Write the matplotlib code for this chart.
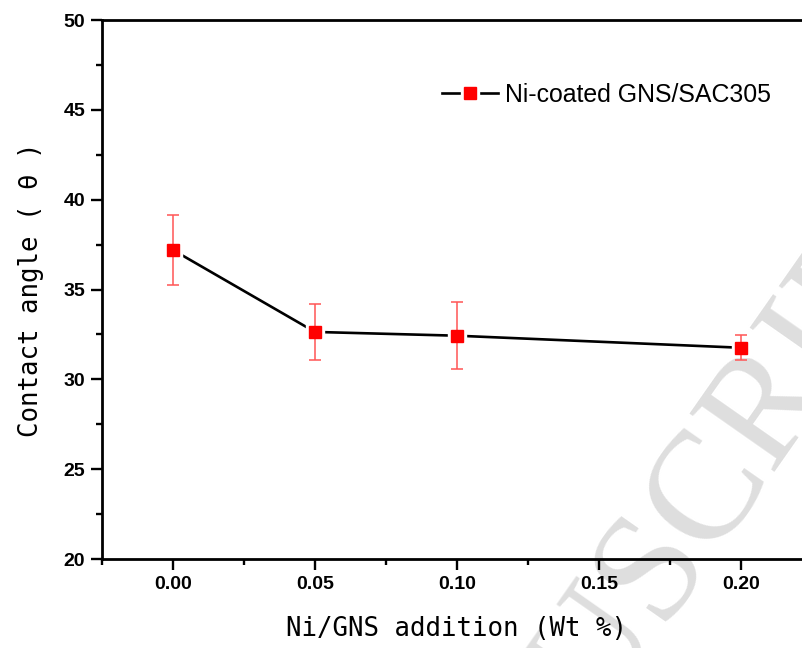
import matplotlib
matplotlib.use('Agg')
import matplotlib.pyplot as plt
from matplotlib.ticker import MultipleLocator

# Contact angle vs. Ni/GNS content
ni_gns_wt = [0.00, 0.05, 0.10, 0.20]
contact_angle = [37.2, 32.64, 32.43, 31.76]
angle_err = [1.93, 1.55, 1.85, 0.69]
series_label = 'Ni-coated GNS/SAC305'

fig = plt.figure(figsize=(8.03, 6.48), dpi=100)
ax = fig.add_axes([0.127, 0.1373, 0.884, 0.8318])
ax.patch.set_alpha(0)

# faint diagonal watermark behind everything
fig.text(0.505, -0.44, 'ACCEPTED MANUSCRIPT', fontsize=112, family='Liberation Serif',
         color='#dedede', rotation=55, rotation_mode='anchor',
         ha='center', va='center', zorder=-5)

# black connecting line, with white squares to leave small gaps at the points
halo, = ax.plot(ni_gns_wt, contact_angle, color='black', lw=1.9, marker='s',
                ms=13, mfc='white', mec='white', zorder=2)
ax.errorbar(ni_gns_wt, contact_angle, yerr=angle_err, fmt='none',
            ecolor='#ff5555', elinewidth=1.1, capsize=4.5, capthick=1.1, zorder=3)
pts, = ax.plot(ni_gns_wt, contact_angle, ls='none', marker='s', ms=8,
               mfc='red', mec='red', zorder=4)

ax.set_xlim(-0.025, 0.225)
ax.set_ylim(20, 50)
ax.xaxis.set_major_locator(MultipleLocator(0.05))
ax.xaxis.set_minor_locator(MultipleLocator(0.025))
ax.yaxis.set_major_locator(MultipleLocator(5))
ax.yaxis.set_minor_locator(MultipleLocator(2.5))
ax.xaxis.set_major_formatter(plt.FormatStrFormatter('%.2f'))

for side in ['left', 'bottom', 'top', 'right']:
    ax.spines[side].set_linewidth(2)
ax.tick_params(which='major', direction='out', length=8, width=1.7, pad=4,
               top=False, right=False)
ax.tick_params(which='minor', direction='out', length=4.5, width=1.7,
               top=False, right=False)
for lab in ax.get_xticklabels() + ax.get_yticklabels():
    lab.set_family('Liberation Sans')
    lab.set_fontweight('bold')
    lab.set_fontsize(14)

label_font = ['DejaVu Sans Mono', 'Noto Sans CJK SC']
ax.set_xlabel('Ni/GNS addition (Wt %)', family=label_font, fontsize=18.5, labelpad=17)
ax.set_ylabel('Contact angle ( θ )', family=label_font, fontsize=18.5, labelpad=14)

ax.legend(handles=[(halo, pts)], labels=[series_label], loc='center left',
          bbox_to_anchor=(0.5504, 0.8534), bbox_transform=fig.transFigure,
          frameon=False, numpoints=1, handlelength=2.25, handletextpad=0.3,
          borderpad=0, borderaxespad=0,
          prop={'family': 'Liberation Sans', 'size': 17.9})

fig.savefig('out.png', dpi=100)
